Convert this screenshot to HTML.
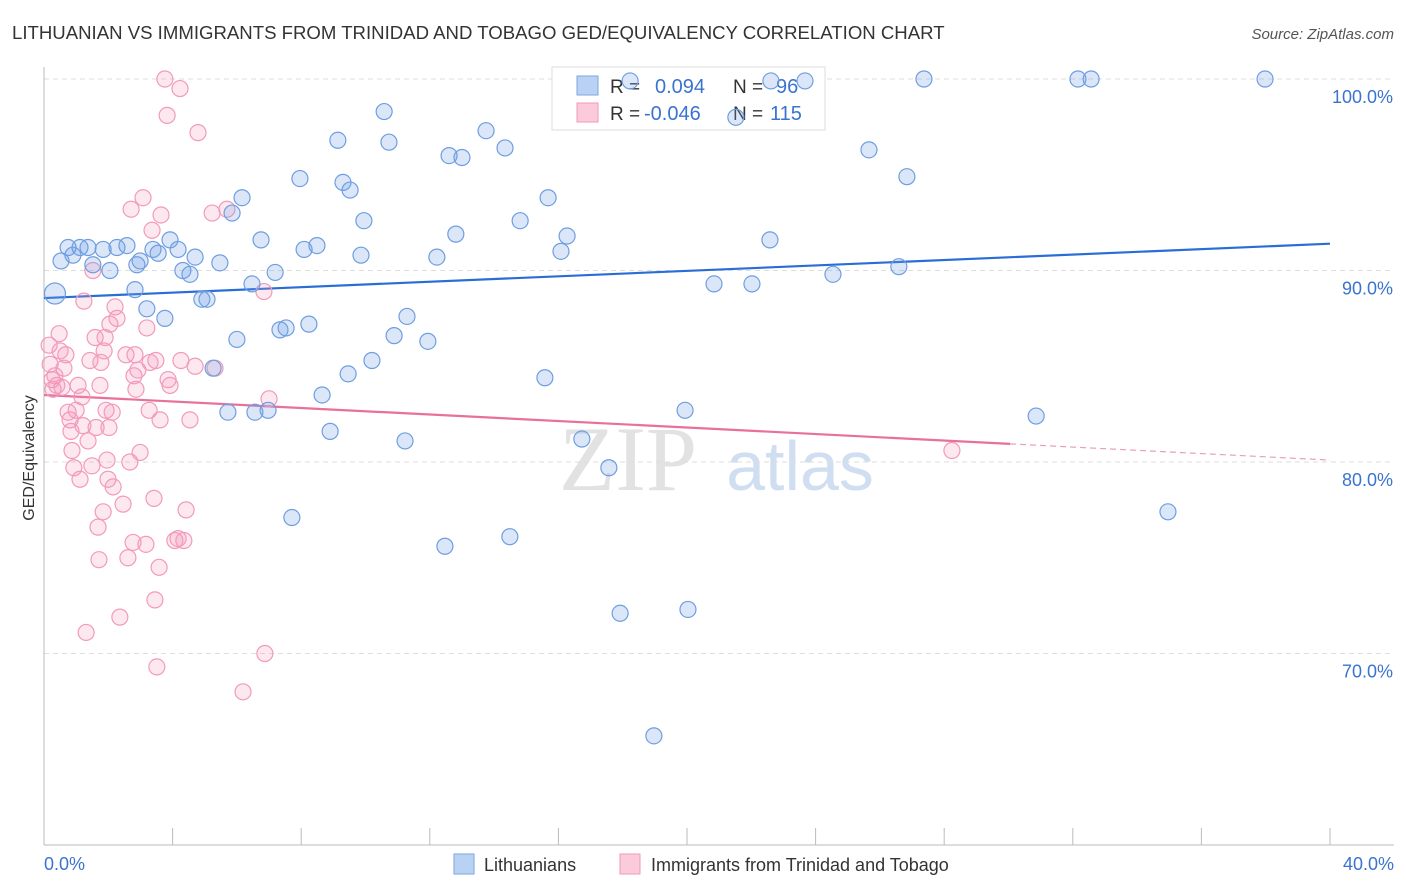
<!DOCTYPE html>
<html><head><meta charset="utf-8">
<style>
body{margin:0;background:#fff;width:1406px;height:892px;overflow:hidden;font-family:"Liberation Sans",sans-serif;}
svg{display:block}
</style></head>
<body>
<svg id="chart" width="1406" height="892">
<text x="12" y="39" font-size="18.6" fill="#333">LITHUANIAN VS IMMIGRANTS FROM TRINIDAD AND TOBAGO GED/EQUIVALENCY CORRELATION CHART</text>
<text x="1394" y="39" font-size="15" fill="#555" font-style="italic" text-anchor="end">Source: ZipAtlas.com</text>
<text transform="translate(34,458) rotate(-90)" font-size="16" fill="#333" text-anchor="middle">GED/Equivalency</text>
<g>
<text x="628" y="490" font-size="92" fill="#e2e2e2" font-family="Liberation Serif,serif" text-anchor="middle">ZIP</text>
<text x="800" y="490" font-size="70" fill="#d0def2" text-anchor="middle">atlas</text>
</g>
<g id="grid"></g><g id="axes"></g>
<g>
<rect x="552" y="67" width="273" height="63" fill="#fff" stroke="#ddd"/>
<rect x="577" y="76" width="21" height="19" fill="#b9d1f3" stroke="#7ea6e0"/>
<rect x="577" y="103" width="21" height="19" fill="#fbcadb" stroke="#f09ab8"/>
<text x="610" y="93" font-size="19" fill="#333">R =</text>
<text x="655" y="93" font-size="20" fill="#3a73d0">0.094</text>
<text x="733" y="93" font-size="19" fill="#333">N =</text>
<text x="776" y="93" font-size="20" fill="#3a73d0">96</text>
<text x="610" y="120" font-size="19" fill="#333">R =</text>
<text x="644" y="120" font-size="20" fill="#3a73d0">-0.046</text>
<text x="733" y="120" font-size="19" fill="#333">N =</text>
<text x="770" y="120" font-size="20" fill="#3a73d0">115</text>
</g>
<g id="lines"></g><g id="pts"></g>
<g>
<rect x="454" y="854" width="20" height="20" fill="#b9d1f3" stroke="#7ea6e0"/>
<text x="484" y="871" font-size="18" fill="#333">Lithuanians</text>
<rect x="620" y="854" width="20" height="20" fill="#fbcadb" stroke="#f09ab8"/>
<text x="651" y="871" font-size="18" fill="#333">Immigrants from Trinidad and Tobago</text>
</g>
</svg>
<script>
const blueX=[0.34,0.53,0.75,0.9,1.12,1.37,1.52,1.84,2.05,2.27,2.58,2.89,2.99,2.83,3.2,3.39,3.55,3.76,3.92,4.17,4.32,4.54,4.7,4.91,5.07,5.26,5.47,5.72,5.85,6.0,6.16,6.47,6.56,6.75,6.97,7.19,7.34,7.53,7.71,7.96,8.09,8.24,8.49,8.65,8.9,9.14,9.3,9.46,9.52,9.86,9.95,10.2,10.58,10.73,10.89,11.23,11.29,11.94,12.22,12.47,12.6,12.81,13.0,13.75,14.34,14.49,14.81,15.58,15.68,16.08,16.27,16.73,17.57,17.92,18.23,18.97,19.94,20.03,20.84,21.52,22.02,22.58,22.61,23.67,24.54,25.66,26.59,26.84,27.37,30.86,32.16,32.57,34.96,37.98];
const blueY=[88.8,90.5,91.2,90.8,91.2,91.2,90.3,91.1,90.0,91.2,91.3,90.3,90.5,89.0,88.0,91.1,90.9,87.5,91.6,91.1,90.0,89.8,90.7,88.5,88.5,84.9,90.4,82.6,93.0,86.4,93.8,89.3,82.6,91.6,82.7,89.9,86.9,87.0,77.1,94.8,91.1,87.2,91.3,83.5,81.6,96.8,94.6,84.6,94.2,90.8,92.6,85.3,98.3,96.7,86.6,81.1,87.6,86.3,90.7,75.6,96.0,91.9,95.9,97.3,96.4,76.1,92.6,84.4,93.8,91.0,91.8,81.2,79.7,72.1,99.9,65.7,82.7,72.3,89.3,98.0,89.3,91.6,99.9,99.9,89.8,96.3,90.2,94.9,100,82.4,100,100,77.4,100];
const pinkX=[0.16,0.19,0.25,0.28,0.34,0.4,0.47,0.5,0.56,0.62,0.68,0.75,0.81,0.84,0.87,0.93,1.0,1.06,1.12,1.18,1.21,1.24,1.31,1.37,1.43,1.49,1.52,1.59,1.62,1.68,1.71,1.74,1.77,1.84,1.87,1.9,1.93,1.96,1.99,2.02,2.05,2.12,2.15,2.21,2.27,2.36,2.46,2.55,2.61,2.67,2.71,2.77,2.8,2.83,2.86,2.92,2.99,3.08,3.17,3.2,3.27,3.3,3.36,3.42,3.45,3.48,3.51,3.58,3.61,3.64,3.76,3.83,3.86,3.92,4.07,4.17,4.23,4.26,4.35,4.42,4.54,4.7,4.79,5.23,5.32,5.69,6.19,6.84,6.87,7.0,28.24];
const pinkY=[86.1,85.1,84.3,83.8,84.5,84.0,86.7,85.8,83.9,84.9,85.6,82.6,82.2,81.6,80.6,79.7,82.7,84.0,79.1,83.4,81.9,88.4,71.1,81.1,85.3,79.8,90.0,86.5,81.8,76.6,74.9,84.0,85.2,77.4,85.8,86.5,82.7,80.1,79.1,81.8,87.2,82.6,78.7,88.1,87.5,71.9,77.8,85.6,75.0,80.0,93.2,75.8,84.5,85.6,83.8,84.8,80.5,93.8,75.7,87.0,82.7,85.2,92.1,78.1,72.8,85.3,69.3,74.5,82.2,92.9,100,98.1,84.3,84.0,75.9,76.0,99.5,85.3,75.9,77.5,82.2,85.0,97.2,93.0,84.9,93.2,68.0,88.9,70.0,83.3,80.6];
const blueTrend=[88.56,91.4];
const pinkTrend=[83.5,80.1];
const pinkSolidEnd=30.05;
const yTicks=[100,90,80,70];
const xTicks=[0,4,8,12,16,20,24,28,32,36,40];

const NS="http://www.w3.org/2000/svg";
const sx=v=>44+v*32.15, sy=v=>79+(100-v)*19.15;
function mk(t,a,p){const e=document.createElementNS(NS,t);for(const k in a)e.setAttribute(k,a[k]);document.getElementById(p).appendChild(e);return e;}
yTicks.forEach(v=>{
 const l=mk('line',{x1:44,x2:1394,y1:sy(v),y2:sy(v),stroke:'#ddd','stroke-dasharray':'5,4'},'grid');
 
 
 const t=mk('text',{x:1393,y:sy(v)+24,'font-size':18,fill:'#3a73d0','text-anchor':'end'},'axes');
 t.textContent=v.toFixed(1)+'%';
 
 
});
mk('line',{x1:44,x2:44,y1:67,y2:845,stroke:'#bbb'},'axes');
mk('line',{x1:44,x2:1394,y1:845,y2:845,stroke:'#bbb'},'axes');
xTicks.forEach(v=>{
 const l=mk('line',{x1:sx(v),x2:sx(v),y1:828,y2:845,stroke:'#bbb'},'axes');
 
 
});
[[0,'start'],[40,'end']].forEach(([v,a])=>{
 const t=mk('text',{x:v==0?44:1394,y:870,'font-size':18,fill:'#3a73d0','text-anchor':a},'axes');
 t.textContent=v.toFixed(1)+'%';
 
 
});
function pts(X,Y,fill,stroke,name){
 X.forEach((x,i)=>{
  const c=mk('circle',{cx:sx(x),cy:sy(Y[i]),r:(name=='blue-point'&&i==0)?10.5:8,fill:fill,stroke:stroke,'stroke-width':1.2},'pts');
  
  
 });
}
pts(pinkX,pinkY,'rgba(244,150,185,0.22)','#f29ab9','pink-point');
pts(blueX,blueY,'rgba(110,160,230,0.25)','#6e9ee0','blue-point');
const bl=mk('line',{x1:sx(0),y1:sy(blueTrend[0]),x2:sx(40),y2:sy(blueTrend[1]),stroke:'#2a6dd6','stroke-width':2.2},'lines');


const pe=pinkTrend[0]+(pinkTrend[1]-pinkTrend[0])*pinkSolidEnd/40;
const pl=mk('line',{x1:sx(0),y1:sy(pinkTrend[0]),x2:sx(pinkSolidEnd),y2:sy(pe),stroke:'#e8709a','stroke-width':2.2},'lines');


const pd=mk('line',{x1:sx(pinkSolidEnd),y1:sy(pe),x2:sx(40),y2:sy(pinkTrend[1]),stroke:'#e8a0b8','stroke-width':1.2,'stroke-dasharray':'6,4'},'lines');


</script>
</body></html>
